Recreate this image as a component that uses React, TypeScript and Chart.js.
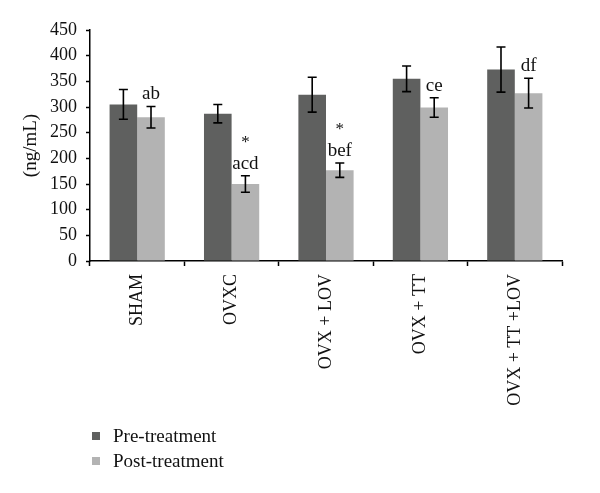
import React, { useEffect, useRef } from "react";
import { Chart, registerables } from "chart.js";

Chart.register(...registerables);

const categories = ["SHAM", "OVXC", "OVX + LOV", "OVX + TT", "OVX + TT +LOV"];
const preValues = [305, 287, 324, 355, 373];
const preErrors = [29, 18, 34, 25, 44];
const postValues = [280, 150, 177, 299, 327];
const postErrors = [21, 16, 14, 19, 29];
const postLabels = ["ab", "acd", "bef", "ce", "df"];
const postStars = [false, true, true, false, false];
const yTicks = [0, 50, 100, 150, 200, 250, 300, 350, 400, 450];

const DARK = "#5f605f";
const LIGHT = "#b3b3b3";
const FONT = "'Liberation Serif', 'Times New Roman', serif";

const errorBarPlugin = {
  id: "errorBars",
  afterDatasetsDraw(chart: any) {
    const ctx = chart.ctx;
    const yScale = chart.scales.y;
    const errs = [preErrors, postErrors];
    ctx.save();
    ctx.strokeStyle = "#000";
    ctx.lineWidth = 1.6;
    chart.data.datasets.forEach((ds: any, di: number) => {
      const meta = chart.getDatasetMeta(di);
      meta.data.forEach((bar: any, i: number) => {
        const v = ds.data[i];
        const e = errs[di][i];
        const x = bar.x;
        const yTop = yScale.getPixelForValue(v + e);
        const yBot = yScale.getPixelForValue(v - e);
        const cap = 4.5;
        ctx.beginPath();
        ctx.moveTo(x, yTop);
        ctx.lineTo(x, yBot);
        ctx.moveTo(x - cap, yTop);
        ctx.lineTo(x + cap, yTop);
        ctx.moveTo(x - cap, yBot);
        ctx.lineTo(x + cap, yBot);
        ctx.stroke();
      });
    });
    // annotations above post-treatment bars
    const meta = chart.getDatasetMeta(1);
    ctx.fillStyle = "#111";
    ctx.textAlign = "center";
    ctx.textBaseline = "alphabetic";
    meta.data.forEach((bar: any, i: number) => {
      const yTop = yScale.getPixelForValue(postValues[i] + postErrors[i]);
      const base = yTop - 7;
      ctx.font = `19px ${FONT}`;
      ctx.fillText(postLabels[i], bar.x, base);
      if (postStars[i]) {
        ctx.font = `17px ${FONT}`;
        ctx.fillText("*", bar.x, base - 22);
      }
    });
    ctx.restore();
  },
  afterDraw(chart: any) {
    const ctx = chart.ctx;
    ctx.save();
    const items = chart.data.datasets.map((d: any) => ({ label: d.label, color: d.backgroundColor }));
    items.forEach((it: any, i: number) => {
      const cy = 436 + i * 25;
      ctx.fillStyle = it.color;
      ctx.fillRect(92, cy - 4, 8, 8);
      ctx.fillStyle = "#111";
      ctx.font = `19px ${FONT}`;
      ctx.textAlign = "left";
      ctx.textBaseline = "middle";
      ctx.fillText(it.label, 113, cy + 1);
    });
    ctx.restore();
  },
};

export default function App() {
  const ref = useRef<HTMLCanvasElement | null>(null);
  useEffect(() => {
    document.body.style.margin = "0";
    const chart = new Chart(ref.current!, {
      type: "bar",
      data: {
        labels: categories,
        datasets: [
          {
            label: "Pre-treatment",
            data: preValues,
            backgroundColor: DARK,
            categoryPercentage: 0.585,
            barPercentage: 1.0,
          },
          {
            label: "Post-treatment",
            data: postValues,
            backgroundColor: LIGHT,
            categoryPercentage: 0.585,
            barPercentage: 1.0,
          },
        ],
      },
      options: {
        responsive: false,
        animation: false,
        layout: { padding: { left: 0, right: 38, top: 30, bottom: 0 } },
        plugins: {
          legend: { display: false },
          tooltip: { enabled: false },
        },
        scales: {
          x: {
            grid: {
              display: true,
              drawOnChartArea: false,
              drawTicks: true,
              tickLength: 5,
              tickColor: "#000",
              tickWidth: 1.5,
              offset: true,
            },
            border: { display: true, color: "#000", width: 1.5 },
            ticks: {
              color: "#111",
              font: { family: FONT, size: 18 },
              maxRotation: 90,
              minRotation: 90,
              padding: 8,
              autoSkip: false,
            },
            afterFit(scale: any) {
              scale.height = 232;
            },
          },
          y: {
            min: 0,
            max: 450,
            afterBuildTicks(scale: any) {
              scale.ticks = yTicks.map((v) => ({ value: v }));
            },
            grid: {
              display: true,
              drawOnChartArea: false,
              drawTicks: true,
              tickLength: 4,
              tickColor: "#000",
              tickWidth: 1.5,
            },
            border: { display: true, color: "#000", width: 1.5 },
            ticks: {
              color: "#111",
              font: { family: FONT, size: 18 },
              padding: 9,
            },
            title: {
              display: true,
              text: "(ng/mL)",
              color: "#111",
              font: { family: FONT, size: 19 },
              padding: { top: 20, bottom: 0 },
            },
            afterFit(scale: any) {
              scale.width = 90;
            },
          },
        },
      },
      plugins: [errorBarPlugin],
    });
    return () => chart.destroy();
  }, []);
  return (
    <div style={{ position: "absolute", left: 0, top: 0, width: 600, height: 493, background: "#fff" }}>
      <canvas ref={ref} width={600} height={493} />
    </div>
  );
}
